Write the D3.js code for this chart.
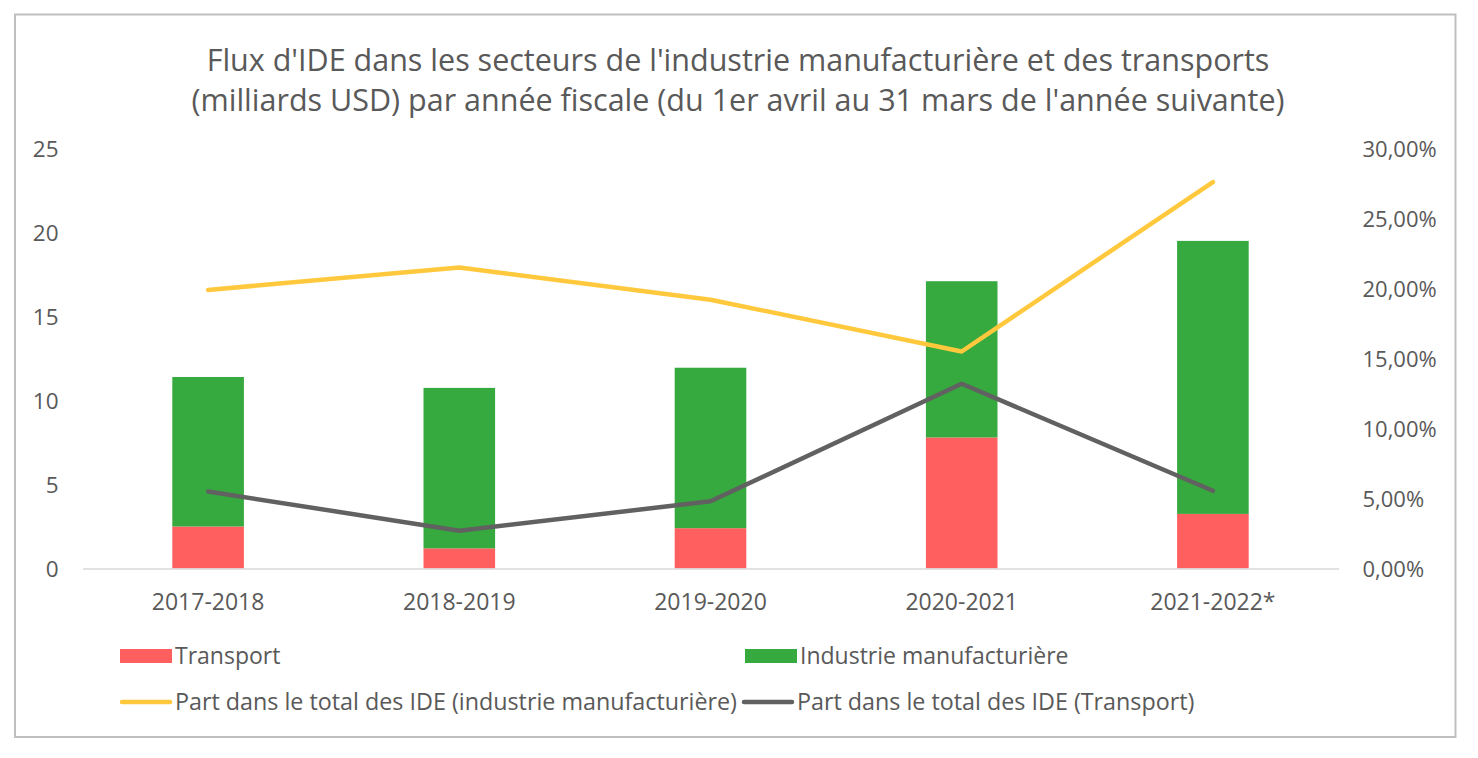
<!DOCTYPE html>
<html><head><meta charset="utf-8">
<script src="https://cdn.jsdelivr.net/npm/d3@7"></script>
<style>
html,body{margin:0;padding:0;background:#fff;}
text{font-family:"Open Sans",sans-serif;fill:#595959;}
</style></head>
<body>
<svg id="chart" width="1478" height="758"></svg>
<script>
const categories = ["2017-2018","2018-2019","2019-2020","2020-2021","2021-2022*"];
const transport = [2.5, 1.2, 2.4, 7.8, 3.25];
const industrie = [8.9, 9.55, 9.55, 9.3, 16.25];
const partIndustrie = [0.199, 0.215, 0.192, 0.155, 0.276];
const partTransport = [0.055, 0.027, 0.048, 0.132, 0.0555];
const leftTicks = [0,5,10,15,20,25];
const rightTicks = [0,0.05,0.10,0.15,0.20,0.25,0.30];
const titleLines = ["Flux d'IDE dans les secteurs de l'industrie manufacturière et des transports",
  "(milliards USD) par année fiscale (du 1er avril au 31 mars de l'année suivante)"];
const seriesNames = ["Transport","Industrie manufacturière",
  "Part dans le total des IDE (industrie manufacturière)","Part dans le total des IDE (Transport)"];
const colors = {transport:"#FF5F5F", industrie:"#36A93F", partInd:"#FFC83D", partTr:"#616161"};

const svg = d3.select("#chart");
svg.append("rect").attr("x",15).attr("y",14.5).attr("width",1440.5).attr("height",722.5)
  .attr("fill","#fff").attr("stroke","#BFBFBF").attr("stroke-width",2);

const pLeft = 82.5, pRight = 1338.5, pTop = 148.5, pBottom = 568.5;
const x = d3.scaleBand().domain(categories).range([pLeft,pRight]).paddingInner(0.715).paddingOuter(0.3575);
const y = d3.scaleLinear().domain([0,25]).range([pBottom,pTop]);
const y2 = d3.scaleLinear().domain([0,0.30]).range([pBottom,pTop]);
const FONT = "'Open Sans',sans-serif";

// title
svg.append("g").selectAll("text").data(titleLines).join("text")
  .attr("x",738).attr("y",(d,i)=>71+i*40).attr("text-anchor","middle")
  .style("font-size","30.5px").text(d=>d);

// left axis
const yAx = svg.append("g").attr("transform",`translate(${pLeft-24},0)`)
  .call(d3.axisLeft(y).tickValues(leftTicks).tickSize(0).tickPadding(0).tickFormat(d3.format("d")));
yAx.select(".domain").remove();
yAx.selectAll("text").style("font-size","22.5px").style("fill","#595959").style("font-family",FONT).attr("dy","0.35em");

// right axis
const fmtPct = d => d3.format(".2f")(d*100).replace(".",",") + "%";
const y2Ax = svg.append("g").attr("transform",`translate(${pRight+24},0)`)
  .call(d3.axisRight(y2).tickValues(rightTicks).tickSize(0).tickPadding(0).tickFormat(fmtPct));
y2Ax.select(".domain").remove();
y2Ax.selectAll("text").style("font-size","22px").style("fill","#595959").style("font-family",FONT).attr("dy","0.35em");

// stacked bars
const stackData = categories.map((c,i)=>({cat:c, transport:transport[i], industrie:industrie[i]}));
const stack = d3.stack().keys(["transport","industrie"])(stackData);
svg.append("g").selectAll("g").data(stack).join("g")
  .attr("fill", d => d.key==="transport"?colors.transport:colors.industrie)
  .selectAll("rect").data(d=>d).join("rect")
  .attr("x", d=>x(d.data.cat)).attr("width", x.bandwidth())
  .attr("y", d=>y(d[1])).attr("height", d=>y(d[0])-y(d[1]));

// baseline axis
const xAx = svg.append("g").attr("transform",`translate(0,${pBottom})`)
  .call(d3.axisBottom(x).tickSize(0).tickPadding(25));
xAx.select(".domain").attr("stroke","#D9D9D9").attr("stroke-width",1.5);
xAx.selectAll("text").style("font-size","23px").style("fill","#595959").style("font-family",FONT);

// lines
const cx = c => x(c)+x.bandwidth()/2;
const line = d3.line().x((d,i)=>cx(categories[i])).y(d=>y2(d));
svg.append("path").datum(partIndustrie).attr("d",line).attr("fill","none")
  .attr("stroke",colors.partInd).attr("stroke-width",4.5).attr("stroke-linecap","round").attr("stroke-linejoin","round");
svg.append("path").datum(partTransport).attr("d",line).attr("fill","none")
  .attr("stroke",colors.partTr).attr("stroke-width",4.5).attr("stroke-linecap","round").attr("stroke-linejoin","round");

// legend
const lg = svg.append("g");
const leg = [
  {name:seriesNames[0], type:"rect", color:colors.transport, x:120, y:656, fs:23},
  {name:seriesNames[1], type:"rect", color:colors.industrie, x:745, y:656, fs:23},
  {name:seriesNames[2], type:"line", color:colors.partInd, x:120, y:702, fs:23.3},
  {name:seriesNames[3], type:"line", color:colors.partTr, x:742, y:702, fs:23.3}
];
leg.forEach(l=>{
  if(l.type==="rect"){
    lg.append("rect").attr("x",l.x).attr("y",l.y-7).attr("width",52).attr("height",14).attr("fill",l.color);
  } else {
    lg.append("line").attr("x1",l.x+2).attr("x2",l.x+50).attr("y1",l.y).attr("y2",l.y)
      .attr("stroke",l.color).attr("stroke-width",4.5).attr("stroke-linecap","round");
  }
  lg.append("text").attr("x",l.x+55).attr("y",l.y).attr("dy","0.35em")
    .style("font-size",l.fs+"px").text(l.name);
});
</script>
</body></html>
